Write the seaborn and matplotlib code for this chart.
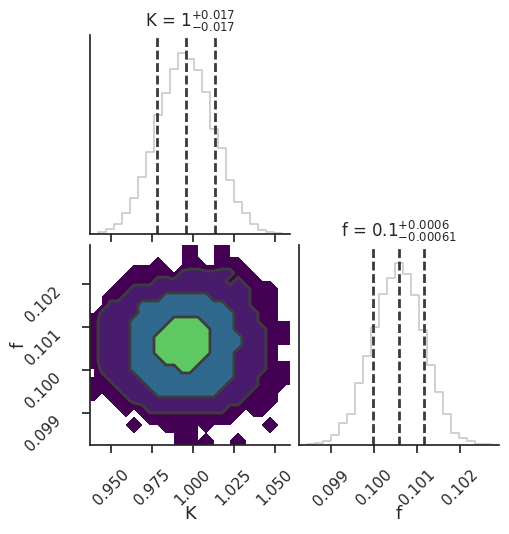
import numpy as np
import pandas as pd
import matplotlib
matplotlib.use("Agg")
import matplotlib.pyplot as plt
import seaborn as sns

# --- 1D marginals (counts per bin) ---
k_range = (0.9370, 1.0594)
k_counts = [0, 6, 16, 29, 64, 107, 172, 246, 357, 424, 496, 544, 525,
            494, 426, 316, 258, 162, 97, 64, 30, 12, 7, 2, 1]
f_range = (0.09826, 0.10291)
f_counts = [0.5, 2, 6, 12, 29, 65, 92, 185, 266, 352, 452, 499, 544,
            512, 449, 344, 239, 160, 92, 35, 20, 11, 3, 2, 1]

k_quantiles = [0.9783, 0.9957, 1.0135]
f_quantiles = [0.09998, 0.10058, 0.10117]
k_title = r"K = $1^{+0.017}_{-0.017}$"
f_title = r"f = $0.1^{+0.0006}_{-0.00061}$"

k_ticks = [0.950, 0.975, 1.000, 1.025, 1.050]
f_ticks = [0.099, 0.100, 0.101, 0.102]

# --- 2D density levels (0 empty .. 4 densest), top row = highest f ---
density_rows = [
    "0000000000001000100000000",
    "0000000000001000100000000",
    "0000000010001100111000000",
    "0000011111022222221100000",
    "0000111122222222212110000",
    "0001122222222222222211100",
    "0011222223333332222211100",
    "0022223333333333322211100",
    "0222223333333333332221100",
    "1222233333444433332221100",
    "1222233334444443332222111",
    "1222233344444443333222111",
    "1222233344444443333222100",
    "1222233344444443332222100",
    "1222233334444433332222100",
    "0222233333344333332222111",
    "0122223333333333332221111",
    "1112222333333333322221010",
    "1011222233333333222211100",
    "0001122222222222222111100",
    "0000101222222222211011000",
    "0000000111111111110000000",
    "0000010001111010000000100",
    "0000000000011000000000000",
    "0000000000011010001000000",
]
level_colors = ["#440154", "#481b6d", "#31688e", "#5ec962"]

sns.set_theme(style="ticks")

fig = plt.figure(figsize=(5.09, 5.34), dpi=100)
ax_k = fig.add_axes([0.1768, 0.5618, 0.3929, 0.3727])
ax_2d = fig.add_axes([0.1768, 0.1667, 0.3929, 0.3745])
ax_f = fig.add_axes([0.5874, 0.1667, 0.3929, 0.3745])

k_edges = np.linspace(k_range[0], k_range[1], len(k_counts) + 1)
f_edges = np.linspace(f_range[0], f_range[1], len(f_counts) + 1)
k_df = pd.DataFrame({"K": 0.5 * (k_edges[1:] + k_edges[:-1]), "n": k_counts})
f_df = pd.DataFrame({"f": 0.5 * (f_edges[1:] + f_edges[:-1]), "n": f_counts})

hist_kw = dict(element="step", fill=False, color="#c8c8c8", linewidth=1.2)
line_kw = dict(color="#3a3a3a", linewidth=2.0, linestyle=(0, (3.2, 1.3)))

# K marginal
sns.histplot(data=k_df, x="K", weights="n", bins=len(k_counts),
             binrange=k_range, ax=ax_k, **hist_kw)
for q in k_quantiles:
    ax_k.axvline(q, **line_kw)
ax_k.set_xlim(*k_range)
ax_k.set_ylim(0, max(k_counts) * 1.1)
ax_k.set_xticks(k_ticks)
ax_k.set_xticklabels([])
ax_k.set_yticks([])
ax_k.set_xlabel("")
ax_k.set_ylabel("")
ax_k.set_title(k_title, fontsize=12)

# f marginal
sns.histplot(data=f_df, x="f", weights="n", bins=len(f_counts),
             binrange=f_range, ax=ax_f, **hist_kw)
for q in f_quantiles:
    ax_f.axvline(q, **line_kw)
ax_f.set_xlim(*f_range)
ax_f.set_ylim(0, max(f_counts) * 1.1)
ax_f.set_xticks(f_ticks)
ax_f.set_xticklabels([f"{t:.3f}" for t in f_ticks], rotation=45)
ax_f.tick_params(axis="x", pad=10)
ax_f.set_yticks([])
ax_f.set_ylabel("")
ax_f.set_xlabel("f", fontsize=13)
ax_f.xaxis.set_label_coords(0.5, -0.30)
ax_f.set_title(f_title, fontsize=12)

# 2D density
k_mid = k_df["K"].to_numpy()
f_mid = f_df["f"].to_numpy()
grid = np.array([[int(c) for c in row] for row in density_rows], float)[::-1]
grid = np.pad(grid, 1, mode="edge")
dk = k_mid[1] - k_mid[0]
dfy = f_mid[1] - f_mid[0]
kx = np.concatenate([[k_mid[0] - dk], k_mid, [k_mid[-1] + dk]])
fy = np.concatenate([[f_mid[0] - dfy], f_mid, [f_mid[-1] + dfy]])
ax_2d.contourf(kx, fy, grid, levels=[0.1, 1.5, 2.5, 3.5, 5], colors=level_colors)
ax_2d.contour(kx, fy, grid, levels=[1.5, 2.5, 3.5], colors="#3d3d3d", linewidths=2)
ax_2d.set_xlim(*k_range)
ax_2d.set_ylim(*f_range)
ax_2d.set_xticks(k_ticks)
ax_2d.set_xticklabels([f"{t:.3f}" for t in k_ticks], rotation=45)
ax_2d.set_yticks(f_ticks)
ax_2d.set_yticklabels([f"{t:.3f}" for t in f_ticks], rotation=45, va="top")
ax_2d.tick_params(axis="x", pad=10)
ax_2d.tick_params(axis="y", pad=13)
ax_2d.set_xlabel("K", fontsize=13)
ax_2d.set_ylabel("f", fontsize=13)
ax_2d.xaxis.set_label_coords(0.5, -0.30)
ax_2d.yaxis.set_label_coords(-0.31, 0.5)

for ax in (ax_k, ax_2d, ax_f):
    sns.despine(ax=ax)

fig.savefig("out.png", dpi=100)
